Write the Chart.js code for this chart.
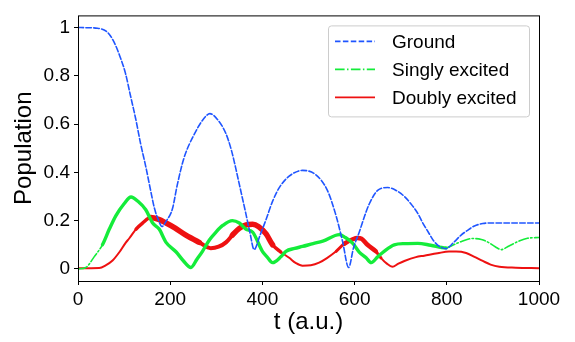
<!DOCTYPE html>
<html>
<head>
<meta charset="utf-8">
<script src="https://cdn.jsdelivr.net/npm/chart.js@4/dist/chart.umd.min.js"></script>
<style>
  html, body { margin: 0; padding: 0; background: #fff; }
  #wrap { width: 575px; height: 342px; }
</style>
</head>
<body>
<div id="wrap"><canvas id="chart"></canvas></div>
<script>
const xTicks = [0, 200, 400, 600, 800, 1000]
const yTicks = [0, 0.2, 0.4, 0.6, 0.8, 1]

const groundT = [
  0, 20, 42, 64, 78, 92, 103, 114, 125, 136,
  147, 157, 166, 175, 182, 192, 205, 215, 230, 252,
  273, 286, 302, 321, 333, 343, 350, 364, 373, 382,
  395, 408, 422, 437, 458, 487, 516, 541, 560, 574,
  587, 598, 610, 621, 632, 650, 672, 690, 708, 722,
  737, 748, 760, 772, 785, 798, 815, 831, 845, 860,
  878, 890, 1000
]
const groundPop = [
  1.0, 0.999, 0.997, 0.98, 0.94, 0.875, 0.81, 0.716, 0.623, 0.517,
  0.424, 0.33, 0.25, 0.2, 0.176, 0.2, 0.25, 0.345, 0.46, 0.557,
  0.623, 0.643, 0.62, 0.56, 0.49, 0.41, 0.35, 0.23, 0.15, 0.08,
  0.14, 0.205, 0.28, 0.338, 0.384, 0.408, 0.39, 0.325, 0.219, 0.113,
  0.006, 0.09, 0.152, 0.215, 0.27, 0.325, 0.337, 0.325, 0.3, 0.27,
  0.23, 0.19, 0.152, 0.115, 0.092, 0.084, 0.11, 0.14, 0.16, 0.178,
  0.188, 0.19, 0.19
]

const singlyT = [
  0, 17, 35, 53, 68, 82, 100, 115, 130, 147,
  162, 176, 191, 213, 228, 245, 258, 270, 285, 299,
  314, 335, 350, 364, 379, 400, 410, 422, 440, 451,
  470, 487, 510, 531, 567, 580, 596, 610, 625, 636,
  650, 664, 686, 710, 737, 765, 798, 815, 831, 856,
  875, 890, 905, 918, 935, 954, 975, 1000
]
const singlyPop = [
  0, 0.006, 0.05, 0.1, 0.165, 0.22, 0.27, 0.298, 0.28, 0.245,
  0.19, 0.165, 0.11, 0.07, 0.035, 0.006, 0.04, 0.073, 0.12, 0.152,
  0.18, 0.2, 0.19, 0.165, 0.152, 0.073, 0.05, 0.026, 0.05, 0.073,
  0.085, 0.093, 0.105, 0.115, 0.142, 0.13, 0.106, 0.07, 0.046, 0.026,
  0.05, 0.073, 0.1, 0.105, 0.106, 0.098, 0.087, 0.1, 0.113, 0.126,
  0.122, 0.11, 0.092, 0.08, 0.095, 0.113, 0.127, 0.13
]

const doublyT = [
  0, 46, 60, 75, 90, 104, 111, 126, 140, 158,
  175, 191, 210, 234, 263, 288, 305, 321, 335, 350,
  365, 379, 392, 408, 422, 440, 458, 472, 487, 505,
  523, 540, 560, 578, 596, 606, 615, 628, 646, 657,
  670, 682, 695, 708, 733, 751, 780, 805, 820, 842,
  860, 878, 895, 914, 950, 1000
]
const doublyPop = [
  0.003, 0.004, 0.015, 0.035, 0.07, 0.11, 0.126, 0.165, 0.19, 0.213,
  0.205, 0.19, 0.17, 0.14, 0.11, 0.086, 0.092, 0.11, 0.14, 0.168,
  0.182, 0.185, 0.175, 0.145, 0.1, 0.07, 0.046, 0.025, 0.013, 0.015,
  0.026, 0.045, 0.073, 0.105, 0.123, 0.128, 0.125, 0.1, 0.073, 0.046,
  0.022, 0.009, 0.022, 0.033, 0.049, 0.055, 0.065, 0.072, 0.072, 0.066,
  0.05, 0.033, 0.018, 0.009, 0.005, 0.003
]

const BLUE = '#1f55ff'
const GREEN = '#14ec3a'
const RED = '#ee1111'
const FONT = '"Liberation Sans", Arial, sans-serif'

const toPoints = (t, p) => t.map((x, i) => ({ x: x, y: p[i] }))

// matplotlib-like dash patterns
const dashed = [5.5, 2.4]
const dashDot = [9.6, 2.4, 1.5, 2.4]

// legend drawn inside the axes, top right, like matplotlib
const legendBox = {
  id: 'legendBox',
  afterDraw(chart) {
    const ctx = chart.ctx
    const area = chart.chartArea
    const x0 = area.right - 211, y0 = area.top + 10, w = 201, h = 91
    ctx.save()
    ctx.beginPath()
    ctx.roundRect(x0 + 0.5, y0 + 0.5, w, h, 3)
    ctx.fillStyle = 'rgba(255,255,255,0.8)'
    ctx.fill()
    ctx.strokeStyle = '#cccccc'
    ctx.lineWidth = 1
    ctx.stroke()
    chart.data.datasets.forEach((ds, i) => {
      const y = y0 + 16 + i * 28
      ctx.beginPath()
      ctx.setLineDash(ds.legendDash)
      ctx.strokeStyle = ds.borderColor
      ctx.lineWidth = ds.legendWidth
      ctx.moveTo(x0 + 7, y)
      ctx.lineTo(x0 + 47, y)
      ctx.stroke()
      ctx.setLineDash([])
      ctx.fillStyle = '#000'
      ctx.font = '19px ' + FONT
      ctx.textBaseline = 'middle'
      ctx.fillText(ds.label, x0 + 64, y + 1)
    })
    ctx.restore()
  }
}

// full box around the axes
const frame = {
  id: 'frame',
  afterDatasetsDraw(chart) {
    const { left, right, top, bottom } = chart.chartArea
    const ctx = chart.ctx
    ctx.save()
    ctx.strokeStyle = '#000'
    ctx.lineWidth = 1
    ctx.strokeRect(left + 0.5, top + 0.5, right - left, bottom - top)
    ctx.restore()
  }
}

// the red curve is a ragged band in some stretches
const redWidth = c => {
  const x = (c.p0.parsed.x + c.p1.parsed.x) / 2
  if (x > 150 && x < 260) return 5.5
  if (x >= 260 && x < 330) return 4
  if (x >= 330 && x < 425) return 5.5
  if (x >= 130 && x < 440) return 3.5
  if (x > 570 && x < 640) return 4.5
  if (x > 550 && x < 660) return 3
  return 2
}

const noisyGreen = c => c.p0.parsed.x >= 53 && c.p1.parsed.x <= 798

new Chart(document.getElementById('chart'), {
  type: 'line',
  data: {
    datasets: [
      {
        label: 'Ground',
        data: toPoints(groundT, groundPop),
        borderColor: BLUE,
        borderWidth: 1.6,
        borderDash: dashed,
        legendDash: dashed,
        legendWidth: 1.6
      },
      {
        label: 'Singly excited',
        data: toPoints(singlyT, singlyPop),
        borderColor: GREEN,
        borderWidth: 1.6,
        legendDash: dashDot,
        legendWidth: 1.6,
        segment: {
          borderDash: c => noisyGreen(c) ? [] : dashDot,
          borderWidth: c => noisyGreen(c) ? 3.4 : 1.6
        }
      },
      {
        label: 'Doubly excited',
        data: toPoints(doublyT, doublyPop),
        borderColor: RED,
        borderWidth: 2,
        legendDash: [],
        legendWidth: 1.6,
        segment: { borderWidth: redWidth }
      }
    ]
  },
  options: {
    responsive: true,
    maintainAspectRatio: false,
    animation: false,
    events: [],
    layout: { padding: { top: 4, right: 36, left: 0, bottom: 0 } },
    elements: {
      point: { radius: 0 },
      line: { cubicInterpolationMode: 'monotone', borderCapStyle: 'round', borderJoinStyle: 'round' }
    },
    plugins: {
      legend: { display: false },
      tooltip: { enabled: false }
    },
    scales: {
      x: {
        type: 'linear',
        min: 0,
        max: 1000,
        afterBuildTicks: s => { s.ticks = xTicks.map(v => ({ value: v })) },
        afterFit: s => { s.height = 61 },
        border: { display: false },
        grid: { drawOnChartArea: false, tickLength: 4, color: '#000', tickWidth: 1 },
        ticks: { color: '#000', font: { family: FONT, size: 19 }, padding: 3, maxRotation: 0, callback: v => String(v) },
        title: { display: true, text: 't (a.u.)', color: '#000', font: { family: FONT, size: 24 }, padding: { top: 0, bottom: 5 } }
      },
      y: {
        type: 'linear',
        min: -0.05,
        max: 1.05,
        afterBuildTicks: s => { s.ticks = yTicks.map(v => ({ value: v })) },
        afterFit: s => { s.width = 78 },
        border: { display: false },
        grid: { drawOnChartArea: false, tickLength: 4, color: '#000', tickWidth: 1 },
        ticks: { color: '#000', font: { family: FONT, size: 19 }, padding: 4, callback: v => String(v) },
        title: { display: true, text: 'Population', color: '#000', font: { family: FONT, size: 24 }, padding: { top: 10, bottom: 0 } }
      }
    }
  },
  plugins: [frame, legendBox]
})
</script>
</body>
</html>
